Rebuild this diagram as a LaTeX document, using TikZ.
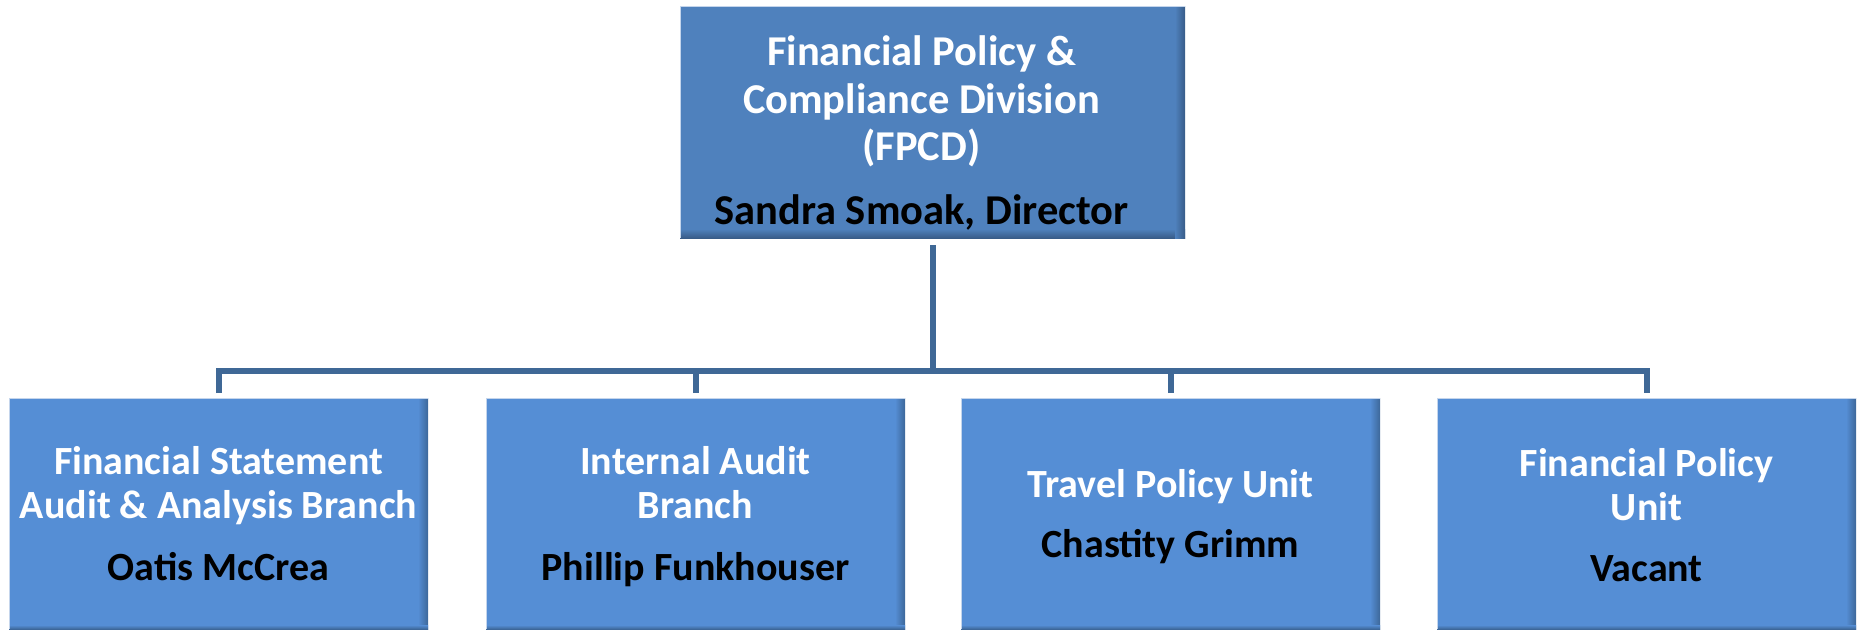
\documentclass[tikz,border=0pt]{standalone}
\usepackage{fontspec}
\setmainfont{Carlito}
\definecolor{topfill}{HTML}{4F81BD}
\definecolor{topshade}{HTML}{385C88}
\definecolor{unitfill}{HTML}{558ED5}
\definecolor{unitshade}{HTML}{3D6799}
\definecolor{connc}{HTML}{3F6896}
\definecolor{edgec}{HTML}{C4D5EC}
\begin{document}
\begin{tikzpicture}[x=1pt,y=-1pt,
  topbox/.style={fill=topfill, inner sep=0pt, outer sep=0pt,
    minimum width=505pt, minimum height=231pt},
  unitbox/.style={fill=unitfill, inner sep=0pt, outer sep=0pt,
    minimum width=419pt, minimum height=231pt},
  edgeline/.style={draw=edgec, line width=1pt},
  toptxt/.style={font=\fontsize{42.5}{48}\selectfont\bfseries, anchor=base, inner sep=0pt},
  unittxt/.style={font=\fontsize{40}{44}\selectfont\bfseries, anchor=base, inner sep=0pt},
  wtxt/.style={text=white},
  ktxt/.style={text=black},
  conn/.style={draw=connc, line width=6pt, line cap=butt, line join=miter}]
\useasboundingbox (0,0) rectangle (1857,631);

% boxes
\node[topbox] (fpcd) at (932.5,122.5) {};
\shade[top color=topfill, bottom color=topshade] ([yshift=9pt]fpcd.south west) rectangle (fpcd.south east);
\shade[left color=topfill, right color=topshade] ([xshift=-10pt]fpcd.north east) rectangle (fpcd.south east);
\draw[edgeline] (fpcd.south west) -- (fpcd.north west) -- (fpcd.north east);

\foreach \n/\x in {b1/218.5, b2/695.5, b3/1170.5, b4/1646.5}{
  \node[unitbox] (\n) at (\x,513.5) {};
  \shade[left color=unitfill, right color=unitshade] ([xshift=-10pt]\n.north east) rectangle (\n.south east);
  \shade[top color=unitfill, bottom color=unitshade] ([yshift=4pt]\n.south west) rectangle (\n.south east);
  \draw[edgeline] (\n.south west) -- (\n.north west) -- (\n.north east);
}

% top texts
\node[toptxt, wtxt] (fpcd1) at (921.5,66) {Financial Policy \&};
\node[toptxt, wtxt] (fpcd2) at (921.5,114) {Compliance Division};
\node[toptxt, wtxt] (fpcd3) at (921.5,161) {(FPCD)};
\node[toptxt, ktxt] (fpcd4) at (921.5,224) {Sandra Smoak, Director};

% unit texts
\node[unittxt, wtxt] (b1a) at (218.5,474) {Financial Statement};
\node[unittxt, wtxt] (b1b) at (218.5,518) {Audit \& Analysis Branch};
\node[unittxt, ktxt] (b1c) at (218.5,580) {Oatis McCrea};

\node[unittxt, wtxt] (b2a) at (695.5,474) {Internal Audit};
\node[unittxt, wtxt] (b2b) at (695.5,518) {Branch};
\node[unittxt, ktxt] (b2c) at (695.5,580) {Phillip Funkhouser};

\node[unittxt, wtxt] (b3a) at (1170.5,497) {Travel Policy Unit};
\node[unittxt, ktxt] (b3b) at (1170.5,557) {Chastity Grimm};

\node[unittxt, wtxt] (b4a) at (1646.5,476) {Financial Policy};
\node[unittxt, wtxt] (b4b) at (1646.5,520) {Unit};
\node[unittxt, ktxt] (b4c) at (1646.5,581) {Vacant};

% connectors
\coordinate (bus) at (0,371);
\draw[conn] ([yshift=-7pt]fpcd.south) -- (fpcd.south |- bus);
\draw[conn] ([yshift=5pt]b1.north) -- (b1.north |- bus) -- (b4.north |- bus) -- ([yshift=5pt]b4.north);
\draw[conn] ([yshift=5pt]b2.north) -- (b2.north |- bus);
\draw[conn] ([yshift=5pt]b3.north) -- (b3.north |- bus);
\end{tikzpicture}
\end{document}
